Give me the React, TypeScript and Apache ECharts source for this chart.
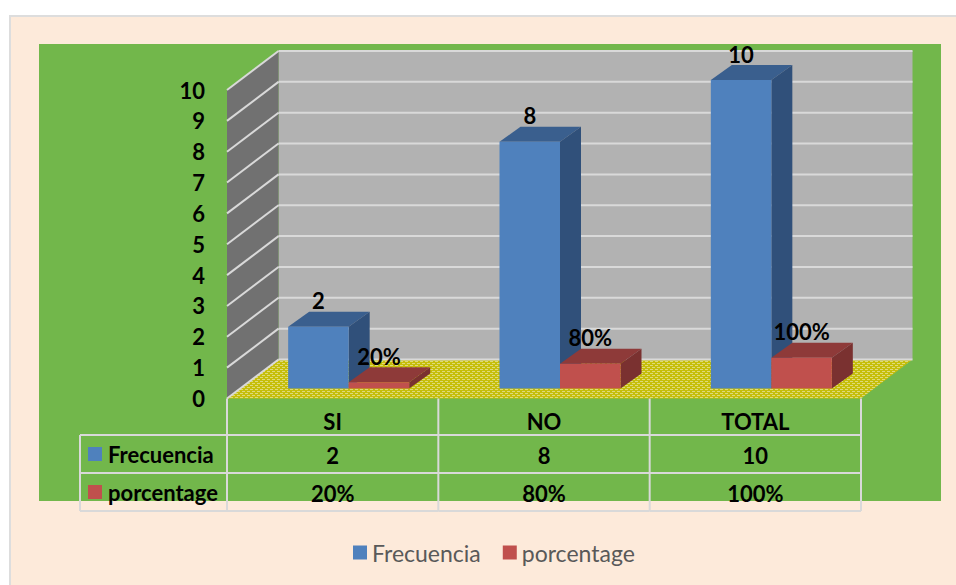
import React, { useEffect, useRef } from "react";
import * as echarts from "echarts";

const categories = ["SI", "NO", "TOTAL"];
const frecuencia = [2, 8, 10];
const porcentage = [0.2, 0.8, 1];
const frecuenciaLabels = ["2", "8", "10"];
const porcentageLabels = ["20%", "80%", "100%"];
const yTicks = [0, 1, 2, 3, 4, 5, 6, 7, 8, 9, 10];

const FONT = "Lato, Carlito, sans-serif";
const BLUE = "#4F81BD";
const RED = "#C0504D";
const LINE = "#D9D9D9";
const DEPTH_X = 51.5;
const DEPTH_Y = -39;
const BAR_DX = 16;
const BAR_DY = -10;
const BAR_W = 60.5;
const SIDE_X = 21;
const SIDE_Y = -15;
const ROW1 = 435;
const ROW2 = 473;
const ROW3 = 511;
const TABLE_LEFT = 80;

function floorPattern(): any {
  const c = document.createElement("canvas");
  c.width = 5;
  c.height = 4;
  const g = c.getContext("2d")!;
  g.fillStyle = "#C6BE0A";
  g.fillRect(0, 0, 5, 4);
  g.fillStyle = "#DEDB78";
  g.fillRect(0, 1, 3, 1);
  g.fillRect(2, 3, 3, 1);
  return { image: c, repeat: "repeat" };
}

function poly(points: number[][], fill: any, z2 = 0) {
  return { type: "polygon", shape: { points }, style: { fill }, z2 };
}
function ln(x1: number, y1: number, x2: number, y2: number, z2 = 1) {
  return {
    type: "line",
    shape: { x1, y1, x2, y2 },
    style: { stroke: LINE, lineWidth: 2, fill: "none" },
    z2,
  };
}
function txt(x: number, y: number, text: string, align = "center", z2 = 20) {
  return {
    type: "text",
    x,
    y,
    style: {
      text,
      x: 0,
      y: 0,
      fill: "#000000",
      font: `bold 22px ${FONT}`,
      align,
      verticalAlign: "middle",
    },
    z2,
  };
}

function barShape(api: any, colors: string[], labels: string[], side: number) {
  const idx = api.value(0);
  const v = api.value(1);
  const [cx, top0] = api.coord([idx, v]);
  const [, base0] = api.coord([idx, 0]);
  const top = top0 + BAR_DY;
  const base = base0 + BAR_DY;
  const x0 = side === 0 ? cx + BAR_DX - BAR_W : cx + BAR_DX;
  const x1 = x0 + BAR_W;
  return {
    type: "group",
    children: [
      poly([[x0, top], [x1, top], [x1 + SIDE_X, top + SIDE_Y], [x0 + SIDE_X, top + SIDE_Y]], colors[1]),
      poly([[x1, top], [x1, base], [x1 + SIDE_X, base + SIDE_Y], [x1 + SIDE_X, top + SIDE_Y]], colors[2]),
      poly([[x0, top], [x1, top], [x1, base], [x0, base]], colors[0]),
      txt((x0 + x1) / 2, top - 26, labels[idx]),
    ],
  };
}

export default function App() {
  const ref = useRef<HTMLDivElement>(null);
  useEffect(() => {
    const chart = echarts.init(ref.current!, undefined, { renderer: "svg" });
    const pattern = floorPattern();
    chart.setOption({
      animation: false,
      backgroundColor: "#FFFFFF",
      graphic: [
        { type: "rect", z: -10, shape: { x: 10, y: 16, width: 960, height: 580 }, style: { fill: "#FDEADA", stroke: "#DDDDDD", lineWidth: 2 } },
        { type: "rect", z: -9, shape: { x: 39, y: 44, width: 902, height: 457 }, style: { fill: "#72B74B" } },
      ],
      grid: { left: 227, width: 634, top: 90, height: 308.5 },
      legend: {
        left: 348,
        top: 536,
        icon: "rect",
        itemWidth: 14,
        itemHeight: 14,
        itemGap: 22,
        data: ["Frecuencia", "porcentage"],
        textStyle: { color: "#595959", fontFamily: FONT, fontSize: 23, padding: [0, 0, 0, 0] },
      },
      xAxis: {
        type: "category",
        data: categories,
        axisLine: { show: false },
        axisTick: { show: false },
        axisLabel: { color: "#000", fontFamily: FONT, fontWeight: "bold", fontSize: 22, margin: 12 },
      },
      yAxis: {
        type: "value",
        min: 0,
        max: 10,
        interval: 1,
        axisLine: { show: false },
        axisTick: { show: false },
        splitLine: { show: false },
        axisLabel: { color: "#000", fontFamily: FONT, fontWeight: "bold", fontSize: 22, margin: 22, padding: [2, 0, 0, 0] },
      },
      series: [
        {
          type: "custom",
          name: "walls",
          coordinateSystem: "cartesian2d",
          clip: false,
          silent: true,
          z: 1,
          data: yTicks.map((t) => [0, t]),
          renderItem: (params: any, api: any) => {
            const t = api.value(1);
            const cs = params.coordSys;
            const xL = cs.x;
            const xR = cs.x + cs.width;
            const y = api.coord([0, t])[1];
            const children: any[] = [];
            if (t === 0) {
              const yTop = api.coord([0, 10])[1];
              children.push(
                poly([[xL + DEPTH_X, yTop + DEPTH_Y], [xR + DEPTH_X, yTop + DEPTH_Y], [xR + DEPTH_X, y + DEPTH_Y], [xL + DEPTH_X, y + DEPTH_Y]], "#B2B2B2", 0),
                poly([[xL, yTop], [xL + DEPTH_X, yTop + DEPTH_Y], [xL + DEPTH_X, y + DEPTH_Y], [xL, y]], "#717171", 0),
                poly([[xL, y], [xL + DEPTH_X, y + DEPTH_Y], [xR + DEPTH_X, y + DEPTH_Y], [xR, y]], pattern, 0),
              );
            }
            children.push(
              ln(xL, y, xL + DEPTH_X, y + DEPTH_Y, 2),
              ln(xL + DEPTH_X, y + DEPTH_Y, xR + DEPTH_X, y + DEPTH_Y, 2),
            );
            return { type: "group", children };
          },
        },
        {
          type: "custom",
          name: "Frecuencia",
          coordinateSystem: "cartesian2d",
          clip: false,
          z: 3,
          itemStyle: { color: BLUE },
          data: frecuencia.map((v, i) => [i, v]),
          renderItem: (_: any, api: any) => barShape(api, [BLUE, "#3A5F8E", "#30507A"], frecuenciaLabels, 0),
        },
        {
          type: "custom",
          name: "porcentage",
          coordinateSystem: "cartesian2d",
          clip: false,
          z: 4,
          itemStyle: { color: RED },
          data: porcentage.map((v, i) => [i, v]),
          renderItem: (_: any, api: any) => barShape(api, [RED, "#8E3A39", "#7A3130"], porcentageLabels, 1),
        },
        {
          type: "custom",
          name: "table",
          coordinateSystem: "cartesian2d",
          clip: false,
          silent: true,
          z: 5,
          data: categories.map((_, i) => [i, 0]),
          renderItem: (params: any, api: any) => {
            const idx = api.value(0);
            const [cx, y0] = api.coord([idx, 0]);
            const band = api.size([1, 0])[0];
            const xL = cx - band / 2;
            const xR = cx + band / 2;
            const children: any[] = [
              ln(xR, y0, xR, ROW3),
              ln(xL, ROW1, xR, ROW1),
              ln(xL, ROW2, xR, ROW2),
              ln(xL, ROW3, xR, ROW3),
              txt(cx, 455, frecuenciaLabels[idx]),
              txt(cx, 493, porcentageLabels[idx]),
            ];
            if (idx === 0) {
              children.push(
                ln(xL, y0, xL, ROW3),
                ln(TABLE_LEFT, ROW1, xL, ROW1),
                ln(TABLE_LEFT, ROW2, xL, ROW2),
                ln(TABLE_LEFT, ROW3, xL, ROW3),
                ln(TABLE_LEFT, ROW1, TABLE_LEFT, ROW3),
                { type: "rect", shape: { x: 88, y: 447, width: 14, height: 14 }, style: { fill: BLUE } },
                { type: "rect", shape: { x: 88, y: 485, width: 14, height: 14 }, style: { fill: RED } },
                txt(108, 454, "Frecuencia", "left"),
                txt(108, 492, "porcentage", "left"),
              );
            }
            return { type: "group", children };
          },
        },
      ],
    });
    return () => chart.dispose();
  }, []);
  return (
    <div
      ref={ref}
      style={{ position: "absolute", left: 0, top: 0, width: 956, height: 585 }}
    />
  );
}
